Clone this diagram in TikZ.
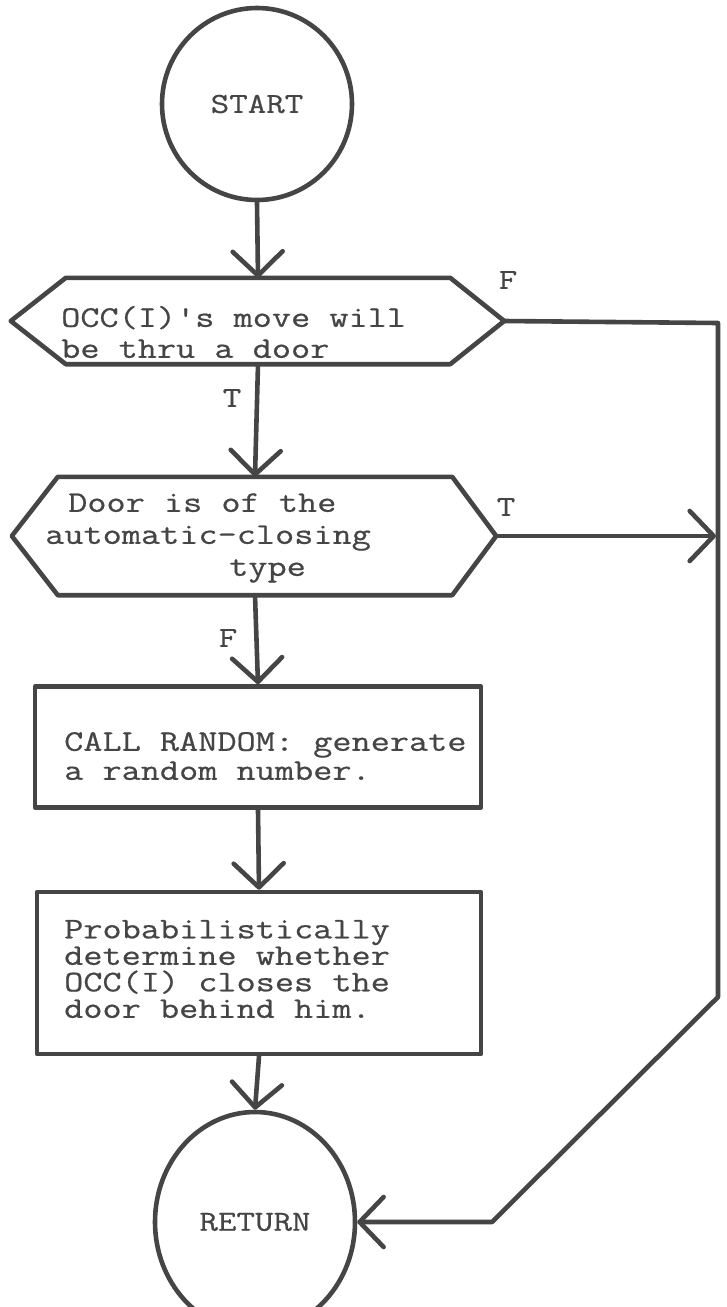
\documentclass[tikz,border=0pt]{standalone}
\usepackage{fontspec}
\newfontfamily\typewriter{Latin Modern Mono}[FakeStretch=1.24, FakeBold=0.6]
\usetikzlibrary{arrows.meta,calc,shapes.geometric}
\definecolor{ink}{HTML}{454545}
\begin{document}
\begin{tikzpicture}[x=1pt,y=-1pt,
  text=ink,
  link/.style={draw=ink, line width=4.6pt, line join=round, line cap=round},
  flow/.style={link, -{Straight Barb[length=24pt,width=50pt,line cap=round,line join=round]}},
  term/.style={ellipse, draw=ink, line width=4.6pt, inner sep=0pt,
               font=\typewriter\fontsize{29}{29}\selectfont},
  proc/.style={rectangle, draw=ink, line width=4.6pt, inner sep=0pt, line join=round},
  deci/.style={rectangle, draw=none, inner sep=0pt},
  txt/.style={align=left, inner sep=0pt, anchor=west},
  lbl/.style={inner sep=0pt, font=\typewriter\fontsize{29}{29}\selectfont}
]
\useasboundingbox (0,0) rectangle (726,1307);
\clip (0,0) rectangle (726,1307);

% terminals
\node[term, minimum width=190pt, minimum height=192pt] (start) at (257,104) {START};
\node[term, minimum width=200pt, minimum height=220pt] (ret) at (255,1222) {RETURN};

% first decision
\node[deci, minimum width=384pt, minimum height=86pt] (d1) at (258,321) {};
\coordinate (d1l) at ($(d1.west)+(-55,0)$);
\coordinate (d1r) at ($(d1.east)+(54,0)$);
\draw[link] (d1l) -- (d1.north west) -- (d1.north east) -- (d1r)
            -- (d1.south east) -- (d1.south west) -- cycle;
\node[txt, font=\typewriter\fontsize{30}{31}\selectfont] (d1txt) at (61,332)
  {OCC(I)'s move will\\be thru a door};

% second decision
\node[deci, minimum width=394pt, minimum height=118pt] (d2) at (255,536) {};
\coordinate (d2l) at ($(d2.west)+(-46,0)$);
\coordinate (d2r) at ($(d2.east)+(44,0)$);
\draw[link] (d2l) -- (d2.north west) -- (d2.north east) -- (d2r)
            -- (d2.south east) -- (d2.south west) -- cycle;
\node[txt, font=\typewriter\fontsize{30}{32}\selectfont] (d2txt) at (45,538)
  {\hspace*{23pt}Door is of the\\automatic-closing\\\hspace*{184pt}type};

% processes
\node[proc, minimum width=446pt, minimum height=121pt] (box1) at (258,747) {};
\node[txt, font=\typewriter\fontsize{30}{29}\selectfont] (b1txt) at (64,756)
  {CALL RANDOM: generate\\a random number.};

\node[proc, minimum width=444pt, minimum height=162pt] (box2) at (259,973) {};
\node[txt, font=\typewriter\fontsize{30}{26.5}\selectfont] (b2txt) at (64,969)
  {Probabilistically\\determine whether\\OCC(I) closes the\\door behind him.};

% branch labels
\node[lbl] (fA) at (508,280) {F};
\node[lbl] (tA) at (232,398) {T};
\node[lbl] (tB) at (506,507) {T};
\node[lbl] (fB) at (228,638) {F};

% main flow
\draw[flow] (start.south) -- (d1.north);
\draw[flow] (d1.south) -- (d2.north);
\draw[flow] (d2.south) -- (box1.north);
\draw[flow] (box1.south) -- (box2.north);
\draw[flow] (box2.south) -- (ret.north);

% bypass on the right
\coordinate (rtop) at (718,323);
\coordinate (rbend) at (718,997);
\coordinate (rfoot) at (492,1222);
\draw[flow] (d1r) -- (rtop) -- (rbend) -- (rfoot) -- (ret.east);
\draw[flow, shorten >=2pt] (d2r) -- (d2r -| rtop);
\end{tikzpicture}
\end{document}
